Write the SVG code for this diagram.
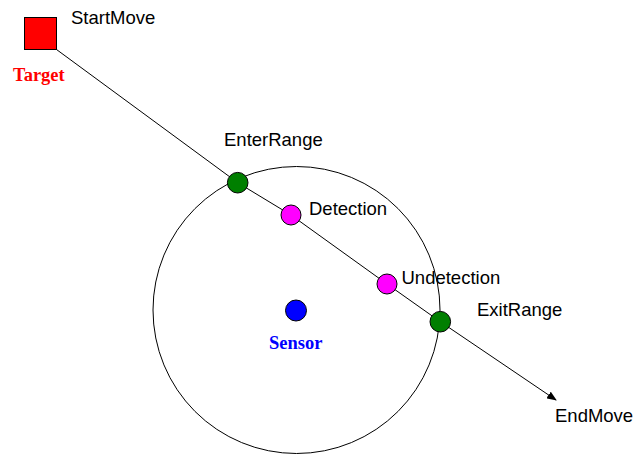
<svg xmlns="http://www.w3.org/2000/svg" width="640" height="454" viewBox="0 0 640 454">
<style>
.lbl{font-family:"Liberation Sans",Arial,sans-serif;font-size:18.5px;fill:#000}
.bold{font-family:"Liberation Serif","Times New Roman",serif;font-size:18.5px;font-weight:bold}
.dot{stroke:#000;stroke-width:1}
.conn{fill:none;stroke:#000;stroke-width:1}
</style>
<defs>
<marker id="arr" markerWidth="10" markerHeight="8" refX="9" refY="4" orient="auto" markerUnits="userSpaceOnUse">
<path d="M0,0 L10,4 L0,8 z" fill="#000"/>
</marker>
</defs>
<rect width="640" height="454" fill="#fff"/>
<g id="range">
<circle cx="296.5" cy="310" r="143.5" fill="none" stroke="#000" stroke-width="1"/>
</g>
<g id="connectors">
<polyline class="conn" points="56.5,49.5 237.7,182.7 291,215 387,284 440.3,321.7 556,400" marker-end="url(#arr)"/>
</g>
<g id="target">
<rect x="24.5" y="17.5" width="32" height="32" fill="#f00" stroke="#000" stroke-width="1"/>
<text class="bold" x="13" y="81" fill="#f00">Target</text>
<text class="lbl" x="71" y="24">StartMove</text>
</g>
<g id="enterRange">
<circle class="dot" cx="237.7" cy="182.7" r="10.3" fill="#007f00"/>
<text class="lbl" x="224" y="145.5">EnterRange</text>
</g>
<g id="detection">
<circle class="dot" cx="291" cy="215" r="10" fill="#f0f"/>
<text class="lbl" x="309" y="215">Detection</text>
</g>
<g id="undetection">
<circle class="dot" cx="387" cy="284" r="10" fill="#f0f"/>
<text class="lbl" x="401.5" y="284">Undetection</text>
</g>
<g id="exitRange">
<circle class="dot" cx="440.3" cy="321.7" r="10.3" fill="#007f00"/>
<text class="lbl" x="477" y="315.5">ExitRange</text>
</g>
<g id="endMove">
<text class="lbl" x="555" y="421.5">EndMove</text>
</g>
<g id="sensor">
<circle class="dot" cx="296" cy="310.5" r="10.5" fill="#00f"/>
<text class="bold" x="269" y="348.5" fill="#00f">Sensor</text>
</g>
</svg>
